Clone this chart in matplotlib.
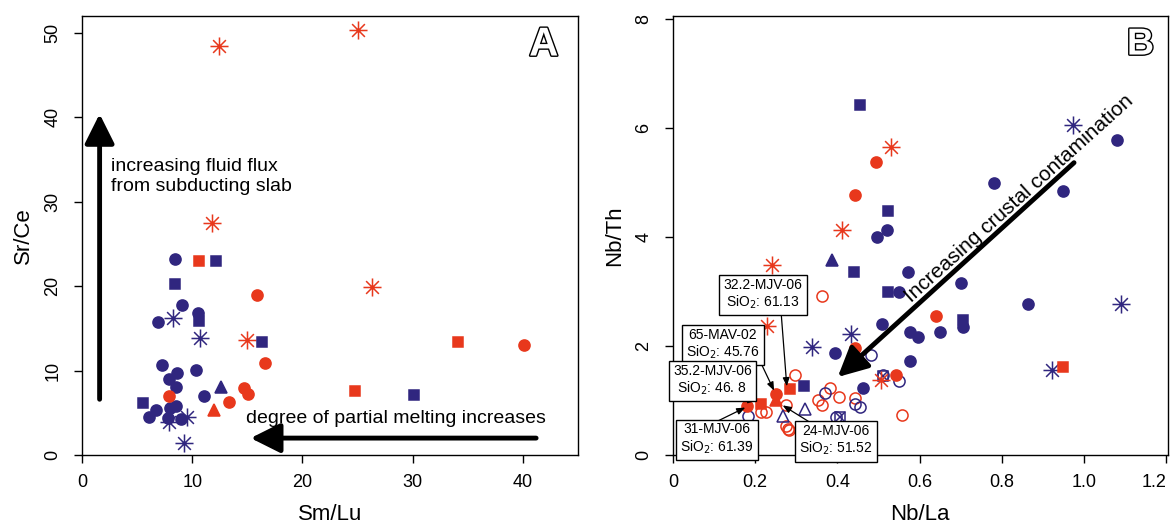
import matplotlib
matplotlib.use('Agg')
import matplotlib.pyplot as plt
import matplotlib.patheffects as pe
from matplotlib.path import Path
import numpy as np

plt.rcParams['font.family'] = ['Liberation Sans', 'DejaVu Sans']

BLUE = '#30267f'
RED = '#e8381c'

# ---------- Panel A : Sr/Ce vs Sm/Lu ----------
a_blue_circ_x = [8.4, 9.1, 6.9, 10.5, 7.3, 8.6, 10.3, 7.9, 8.5, 11.1, 6.7, 6.1, 8.0, 8.5, 7.8, 9.0]
a_blue_circ_y = [23.2, 17.8, 15.8, 16.8, 10.6, 9.7, 10.1, 9.0, 8.1, 7.0, 5.3, 4.5, 5.6, 5.8, 4.4, 4.3]
a_blue_sq_x = [8.4, 12.2, 10.6, 16.3, 5.5, 30.1]
a_blue_sq_y = [20.3, 23.0, 15.9, 13.4, 6.2, 7.1]
a_red_sq_x = [10.6, 24.8, 34.1]
a_red_sq_y = [23.0, 7.6, 13.4]
a_red_circ_x = [15.9, 16.6, 14.7, 15.1, 13.3, 7.9, 40.1]
a_red_circ_y = [18.9, 10.9, 7.9, 7.2, 6.3, 7.0, 13.0]
a_blue_tri_x = [12.6]
a_blue_tri_y = [8.1]
a_red_tri_x = [12.0]
a_red_tri_y = [5.3]
a_red_ast_x = [12.4, 25.0, 11.8, 26.3, 15.0]
a_red_ast_y = [48.5, 50.4, 27.5, 19.9, 13.6]
a_blue_ast_x = [8.3, 10.7, 9.5, 7.9, 9.3]
a_blue_ast_y = [16.2, 13.8, 4.5, 3.9, 1.4]

# ---------- Panel B : Nb/Th vs Nb/La ----------
b_blue_sq_x = [0.454, 0.523, 0.441, 0.524, 0.706, 0.320]
b_blue_sq_y = [6.41, 4.48, 3.35, 2.98, 2.48, 1.27]
b_blue_circ_x = [0.521, 0.496, 0.572, 0.550, 0.701, 0.781, 0.948, 1.081, 0.865,
                 0.706, 0.650, 0.508, 0.577, 0.596, 0.395, 0.578, 0.462]
b_blue_circ_y = [4.13, 3.99, 3.35, 2.98, 3.15, 4.99, 4.84, 5.77, 2.76,
                 2.34, 2.25, 2.40, 2.26, 2.16, 1.87, 1.73, 1.23]
b_red_circ_x = [0.495, 0.443, 0.639, 0.442, 0.543, 0.250, 0.180]
b_red_circ_y = [5.37, 4.77, 2.54, 1.96, 1.47, 1.12, 0.89]
b_red_sq_x = [0.285, 0.215, 0.950]
b_red_sq_y = [1.21, 0.94, 1.62]
b_red_tri_x = [0.250]
b_red_tri_y = [1.00]
b_blue_tri_x = [0.387]
b_blue_tri_y = [3.57]
b_red_ast_x = [0.531, 0.412, 0.240, 0.228, 0.507]
b_red_ast_y = [5.65, 4.12, 3.48, 2.37, 1.38]
b_blue_ast_x = [0.974, 1.090, 0.433, 0.338, 0.923]
b_blue_ast_y = [6.06, 2.76, 2.22, 1.98, 1.56]
b_red_open_x = [0.362, 0.296, 0.383, 0.403, 0.444, 0.352, 0.363, 0.557, 0.275,
                0.275, 0.279, 0.283, 0.214, 0.226]
b_red_open_y = [2.92, 1.46, 1.23, 1.07, 1.04, 1.00, 0.91, 0.74, 0.91,
                0.54, 0.48, 0.45, 0.79, 0.79]
b_blue_open_x = [0.482, 0.511, 0.551, 0.371, 0.444, 0.456, 0.397, 0.183]
b_blue_open_y = [1.83, 1.46, 1.35, 1.14, 0.94, 0.88, 0.695, 0.71]
b_blue_otri_x = [0.267, 0.321]
b_blue_otri_y = [0.71, 0.85]
b_blue_boxx_x = [0.511, 0.407]
b_blue_boxx_y = [1.44, 0.695]

# labelled samples: (text, box centre, arrow start, arrow end)
samples = ['32.2-MJV-06\nSiO$_2$: 61.13', '65-MAV-02\nSiO$_2$: 45.76',
           '35.2-MJV-06\nSiO$_2$: 46. 8', '31-MJV-06\nSiO$_2$: 61.39',
           '24-MJV-06\nSiO$_2$: 51.52']
box_xy = [(0.219, 2.94), (0.121, 2.03), (0.096, 1.37), (0.107, 0.29), (0.396, 0.26)]
arr_from = [(0.263, 2.63), (0.210, 1.75), (0.0, 1.09), (0.092, 0.56), (0.348, 0.53)]
arr_to = [(0.277, 1.26), (0.246, 1.18), (0.203, 1.00), (0.176, 0.87), (0.267, 0.91)]

# R-like asterisk (pch 8)
ang = np.arange(8) * np.pi / 4
verts, codes = [], []
for t in ang:
    verts += [(0, 0), (np.cos(t), np.sin(t))]
    codes += [Path.MOVETO, Path.LINETO]
AST = Path(verts, codes)


def pts(ax, x, y, m, c, ms=8, filled=True, mew=1.1):
    ax.plot(x, y, linestyle='none', marker=m, ms=ms,
            mfc=c if filled else 'none', mec=c, mew=mew)


def style(ax):
    for s in ax.spines.values():
        s.set_linewidth(1.0)
    ax.tick_params(direction='out', length=6, width=1, labelsize=13)
    ax.tick_params(axis='x', pad=8)
    ax.tick_params(axis='y', pad=9, labelrotation=90)
    for lab in ax.get_yticklabels():
        lab.set_va('center')


fig = plt.figure(figsize=(11.71, 5.28), dpi=100)
axA = fig.add_axes([0.0700, 0.1383, 0.4236, 0.8314])
axB = fig.add_axes([0.5747, 0.1383, 0.4225, 0.8314])

# panel A
pts(axA, a_red_ast_x, a_red_ast_y, AST, RED, ms=13, filled=False, mew=1.1)
pts(axA, a_blue_ast_x, a_blue_ast_y, AST, BLUE, ms=13, filled=False, mew=1.1)
pts(axA, a_blue_circ_x, a_blue_circ_y, 'o', BLUE, ms=8)
pts(axA, a_blue_sq_x, a_blue_sq_y, 's', BLUE, ms=7.5)
pts(axA, a_red_sq_x, a_red_sq_y, 's', RED, ms=7.5)
pts(axA, a_red_circ_x, a_red_circ_y, 'o', RED, ms=8)
pts(axA, a_blue_tri_x, a_blue_tri_y, '^', BLUE, ms=9)
pts(axA, a_red_tri_x, a_red_tri_y, '^', RED, ms=9)

axA.set_xlim(0, 45)
axA.set_ylim(0, 52)
axA.set_xticks([0, 10, 20, 30, 40])
axA.set_yticks([0, 10, 20, 30, 40, 50])
style(axA)
axA.set_xlabel('Sm/Lu', fontsize=16, labelpad=9)
axA.set_ylabel('Sr/Ce', fontsize=16, labelpad=7)

big = dict(arrowstyle='-|>,head_length=0.9,head_width=0.45', lw=3.5, color='black',
           mutation_scale=20, shrinkA=0, shrinkB=0)
axA.annotate('', xy=(1.6, 40.4), xytext=(1.6, 6.6), arrowprops=big)
axA.annotate('', xy=(15.3, 2.0), xytext=(41.2, 2.0), arrowprops=big)
axA.text(2.6, 33.0, 'increasing fluid flux\nfrom subducting slab', fontsize=14,
         va='center', ha='left', linespacing=1.25)
axA.text(42.1, 4.3, 'degree of partial melting increases', fontsize=14,
         va='center', ha='right')
axA.text(0.931, 0.935, 'A', transform=axA.transAxes, fontsize=29, fontweight='bold',
         color='white', ha='center', va='center',
         path_effects=[pe.withStroke(linewidth=2, foreground='black')])

# panel B
pts(axB, b_red_open_x, b_red_open_y, 'o', RED, ms=8, filled=False)
pts(axB, b_blue_open_x, b_blue_open_y, 'o', BLUE, ms=8, filled=False)
pts(axB, b_blue_otri_x, b_blue_otri_y, '^', BLUE, ms=9, filled=False)
pts(axB, b_blue_boxx_x, b_blue_boxx_y, 's', BLUE, ms=7.5, filled=False)
pts(axB, b_blue_boxx_x, b_blue_boxx_y, 'x', BLUE, ms=7.5, filled=False)
pts(axB, b_red_ast_x, b_red_ast_y, AST, RED, ms=13, filled=False)
pts(axB, b_blue_ast_x, b_blue_ast_y, AST, BLUE, ms=13, filled=False)
pts(axB, b_blue_circ_x, b_blue_circ_y, 'o', BLUE, ms=8)
pts(axB, b_blue_sq_x, b_blue_sq_y, 's', BLUE, ms=7.5)
pts(axB, b_red_circ_x, b_red_circ_y, 'o', RED, ms=8)
pts(axB, b_red_sq_x, b_red_sq_y, 's', RED, ms=7.5)
pts(axB, b_red_tri_x, b_red_tri_y, '^', RED, ms=9)
pts(axB, b_blue_tri_x, b_blue_tri_y, '^', BLUE, ms=9)

axB.set_xlim(0, 1.204)
axB.set_ylim(0, 8.05)
axB.set_xticks([0, 0.2, 0.4, 0.6, 0.8, 1.0, 1.2])
axB.set_xticklabels(['0', '0.2', '0.4', '0.6', '0.8', '1.0', '1.2'])
axB.set_yticks([0, 2, 4, 6, 8])
style(axB)
axB.get_xticklabels()[-1].set_ha('right')
axB.set_xlabel('Nb/La', fontsize=16, labelpad=9)
axB.set_ylabel('Nb/Th', fontsize=16, labelpad=7)

axB.annotate('', xy=(0.401, 1.43), xytext=(0.976, 5.36), arrowprops=big)
axB.text(0.842, 4.70, 'Increasing crustal contamination', fontsize=15,
         rotation=42, rotation_mode='anchor', ha='center', va='center')
axB.text(0.945, 0.935, 'B', transform=axB.transAxes, fontsize=27, fontweight='bold',
         color='white', ha='center', va='center',
         path_effects=[pe.withStroke(linewidth=2, foreground='black')])

small = dict(arrowstyle='-|>,head_length=0.5,head_width=0.2', lw=0.9, color='black',
             mutation_scale=10, shrinkA=0, shrinkB=0)
for txt, bxy, a0, a1 in zip(samples, box_xy, arr_from, arr_to):
    axB.annotate('', xy=a1, xytext=a0, arrowprops=small)
    axB.text(bxy[0], bxy[1], txt, fontsize=10, ha='center', va='center',
             linespacing=1.15,
             bbox=dict(boxstyle='square,pad=0.3', fc='white', ec='black', lw=1))

fig.savefig('out.png', dpi=100)
